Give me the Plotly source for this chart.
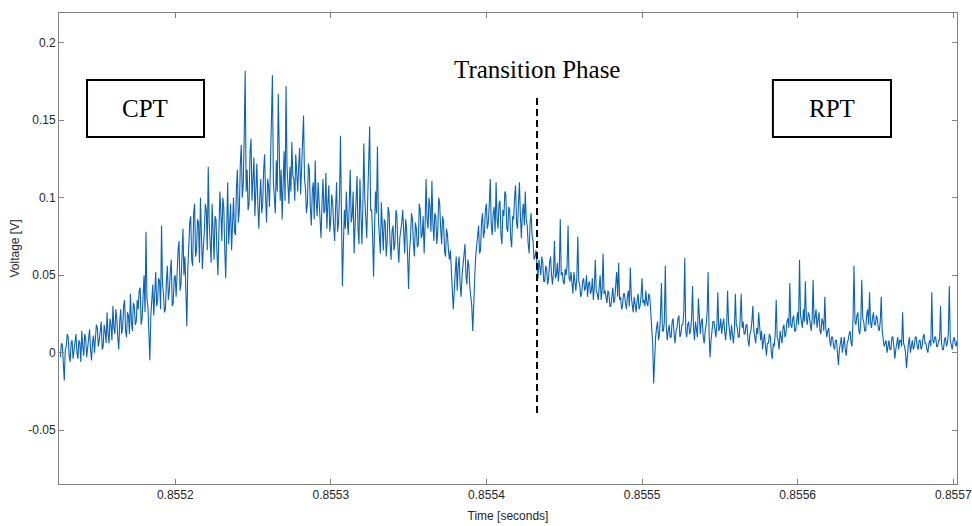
import plotly.graph_objects as go

# ---- data ----
t_start = 0.8551262          # seconds
t_step = 0.625e-6            # seconds between samples
voltage_mV = [
    -3, 6, 5, -8, -18, 2, 4, 12, 10, -2, -6, 6, 8, -4, 2, 10, 12, 0, -4, 8, 6, -6, 14, 4, -2, 12, 9, -3, 3, 8, 15, 2, -5, 6, 11, 0, 7, 18, 16, 4,
    8, 16, 20, 2, 4, 18, 14, 6, 26, 12, 6, 22, 18, 8, 30, 16, 12, 28, 22, 10, 2, 20, 28, 12, 16, 30, 34, 14, 10, 26, 24, 12, 38, 20, 14, 32, 30, 18, 20, 34,
    28, 40, 42, 18, 22, 36, 50, 26, 78, 34, 30, 12, -5, 24, 36, 44, 24, 38, 52, 30, 34, 48, 46, 28, 82, 44, 38, 26, 28, 46, 56, 34, 40, 52, 60, 30, 32, 48, 50, 36,
    58, 66, 72, 40, 44, 68, 80, 50, 62, 40, 17, 54, 70, 84, 88, 60, 56, 90, 96, 62, 66, 86, 84, 58, 100, 74, 54, 68, 78, 96, 92, 66, 120, 84, 70, 58, 96, 76, 60, 88,
    86, 64, 50, 78, 104, 90, 72, 100, 94, 66, 48, 80, 110, 70, 82, 96, 66, 88, 100, 78, 76, 106, 118, 84, 92, 122, 134, 100, 108, 140, 182, 104, 118, 92, 96, 130, 138, 98, 110, 126,
    88, 104, 122, 96, 80, 100, 112, 90, 96, 118, 128, 100, 84, 112, 108, 94, 118, 140, 179, 110, 100, 90, 124, 104, 167, 112, 98, 118, 86, 108, 130, 98, 172, 120, 110, 96, 120, 104, 136, 114,
    112, 98, 128, 110, 104, 120, 132, 102, 116, 134, 153, 112, 106, 90, 96, 122, 118, 94, 82, 104, 110, 86, 124, 98, 88, 110, 100, 84, 74, 96, 112, 90, 92, 116, 80, 96, 108, 78, 86, 102,
    96, 82, 72, 94, 110, 78, 84, 100, 140, 88, 43, 70, 92, 80, 104, 86, 76, 96, 118, 84, 88, 104, 64, 82, 98, 114, 80, 70, 112, 90, 70, 94, 135, 100, 88, 74, 100, 120, 146, 92,
    92, 76, 49, 80, 104, 90, 133, 86, 78, 64, 97, 72, 66, 86, 84, 62, 72, 94, 90, 70, 60, 78, 82, 66, 70, 92, 88, 68, 58, 74, 78, 84, 92, 70, 64, 86, 80, 62, 41, 66,
    74, 90, 86, 70, 62, 84, 80, 68, 70, 96, 92, 74, 76, 88, 64, 82, 112, 86, 80, 100, 94, 78, 111, 84, 72, 90, 88, 70, 78, 100, 96, 80, 70, 88, 84, 66, 62, 80, 76, 66,
    60, 66, 48, 40, 28, 46, 52, 62, 40, 56, 62, 44, 36, 50, 58, 68, 70, 50, 44, 60, 56, 42, 34, 30, 14, 36, 48, 62, 70, 76, 82, 64, 66, 84, 90, 74, 78, 92, 96, 80,
    84, 96, 112, 82, 76, 90, 94, 78, 110, 86, 80, 96, 98, 76, 70, 92, 88, 104, 102, 80, 78, 94, 92, 74, 68, 88, 86, 100, 108, 84, 80, 96, 110, 88, 74, 90, 96, 82, 104, 86,
    82, 70, 64, 84, 90, 76, 72, 60, 62, 66, 56, 48, 60, 54, 50, 62, 58, 46, 46, 56, 54, 44, 48, 58, 62, 50, 44, 52, 72, 48, 50, 58, 46, 54, 86, 50, 52, 46, 44, 54,
    50, 56, 82, 48, 46, 52, 42, 38, 52, 44, 40, 48, 75, 46, 44, 36, 38, 46, 48, 40, 42, 50, 36, 44, 46, 38, 40, 48, 34, 42, 60, 40, 38, 34, 44, 50, 34, 40, 64, 38,
    40, 34, 32, 40, 38, 30, 30, 36, 42, 32, 34, 44, 52, 36, 58, 34, 36, 28, 30, 38, 38, 32, 28, 36, 40, 30, 55, 36, 32, 26, 36, 30, 26, 34, 38, 28, 30, 36, 48, 32,
    34, 30, 40, 32, 30, 38, 36, 26, 17, 6, -20, 4, 10, 16, 20, 8, 12, 24, 45, 14, 14, 20, 56, 16, 8, 14, 18, 10, 10, 20, 22, 12, 6, 14, 16, 22, 24, 10, 12, 18,
    18, 26, 61, 14, 10, 18, 20, 12, 14, 22, 43, 16, 8, 20, 16, 10, 35, 18, 12, 20, 22, 10, 6, 14, 18, 26, 52, 12, -3, 8, 14, 20, 20, 12, 10, 18, 39, 14, 16, 22,
    12, 18, 22, 14, 8, 16, 40, 20, 14, 8, 18, 12, 6, 14, 38, 18, 16, 10, 10, 22, 38, 16, 20, 12, 12, 18, 18, 8, 4, 12, 14, 20, 30, 14, 10, 6, 16, 12, 26, 14,
    8, 14, 2, 8, 12, 4, -2, 6, 6, 12, 10, 0, -4, 6, 4, 12, 34, 10, 8, 2, 14, 10, 6, 16, 18, 10, 12, 20, 22, 16, 45, 18, 16, 22, 24, 14, 14, 20, 26, 18,
    60, 24, 20, 16, 28, 20, 46, 22, 18, 26, 24, 16, 14, 22, 47, 18, 22, 28, 16, 20, 26, 14, 12, 22, 20, 14, 36, 16, 10, 14, 16, 8, 4, 10, 10, 4, 2, 8, 8, 0,
    -8, 2, 6, 10, 0, 4, 10, 2, -2, 6, 8, 12, 14, 6, 4, 22, 56, 20, 18, 24, 26, 14, 12, 20, 47, 22, 20, 14, 14, 24, 28, 18, 39, 20, 16, 22, 26, 18, 18, 24,
    22, 16, 14, 20, 36, 14, 10, 4, 6, 8, 0, 6, 8, 2, 2, 10, 10, 4, -4, 2, 6, 10, 2, 8, 8, 4, 26, 6, 4, 0, -10, 2, 6, 10, 0, 4, 8, 2, 4, 10,
    10, 4, 2, 8, 8, 2, 4, 10, 12, 6, 6, 2, 0, 6, 8, 4, 39, 8, 6, 10, 10, 4, 4, 8, 8, 30, 6, 2, 2, 8, 10, 4, 6, 12, 43, 8, 4, 2, 8, 10, 6, 4, 8,
]
x_tick_vals = [0.8552, 0.8553, 0.8554, 0.8555, 0.8556, 0.8557]
x_tick_text = ["0.8552", "0.8553", "0.8554", "0.8555", "0.8556", "0.8557"]
y_tick_vals = [-0.05, 0, 0.05, 0.1, 0.15, 0.2]
y_tick_text = ["-0.05", "0", "0.05", "0.1", "0.15", "0.2"]
transition_time = 0.8554325
transition_span = [-0.039, 0.166]
phase_labels = ["CPT", "Transition Phase", "RPT"]

time_s = [t_start + i * t_step for i in range(len(voltage_mV))]
voltage_V = [v / 1000.0 for v in voltage_mV]

fig = go.Figure()
fig.add_trace(go.Scatter(
    x=time_s, y=voltage_V, mode="lines",
    line=dict(color="#0b63b2", width=1.1),
    showlegend=False, hoverinfo="skip",
))
fig.add_trace(go.Scatter(
    x=[transition_time, transition_time], y=transition_span, mode="lines",
    line=dict(color="black", width=2, dash="7px,4px"),
    showlegend=False, hoverinfo="skip",
))

axis_common = dict(
    showline=True, linecolor="#808080", linewidth=1, mirror="ticks",
    ticks="inside", ticklen=5, tickcolor="#808080", showgrid=False, zeroline=False,
    automargin=False,
    tickfont=dict(family="Liberation Sans, Arial", size=12, color="#262626"),
)
fig.update_xaxes(
    range=[0.8551253, 0.8557024], tickvals=x_tick_vals, ticktext=x_tick_text,
    title=dict(text="Time [seconds]", font=dict(family="Liberation Sans, Arial", size=12, color="#262626"), standoff=10),
    **axis_common,
)
fig.update_yaxes(
    range=[-0.0848, 0.2192], tickvals=y_tick_vals, ticktext=y_tick_text,
    title=dict(text="Voltage [V]", font=dict(family="Liberation Sans, Arial", size=12, color="#262626"), standoff=6),
    **axis_common,
)

serif = dict(family="Liberation Serif, Times New Roman", size=25, color="black")
for (x0, x1) in [(0.0312, 0.1615), (0.795, 0.9265)]:
    fig.add_shape(type="rect", xref="paper", yref="paper", x0=x0, x1=x1, y0=0.7367, y1=0.8577,
                  line=dict(color="black", width=2), fillcolor="white", layer="above")
fig.add_annotation(x=0.0963, y=0.798, xref="paper", yref="paper", text=phase_labels[0],
                   showarrow=False, font=serif, xanchor="center", yanchor="middle")
fig.add_annotation(x=0.5323, y=0.881, xref="paper", yref="paper", text=phase_labels[1],
                   showarrow=False, font=serif, xanchor="center", yanchor="middle")
fig.add_annotation(x=0.861, y=0.798, xref="paper", yref="paper", text=phase_labels[2],
                   showarrow=False, font=serif, xanchor="center", yanchor="middle")

fig.update_layout(
    width=972, height=526,
    margin=dict(l=59, r=15, t=13, b=42),
    plot_bgcolor="white", paper_bgcolor="white",
)
fig.write_html("out.html", config={"displayModeBar": False},
               post_script="document.body.style.margin='0';document.body.style.overflow='hidden';")
